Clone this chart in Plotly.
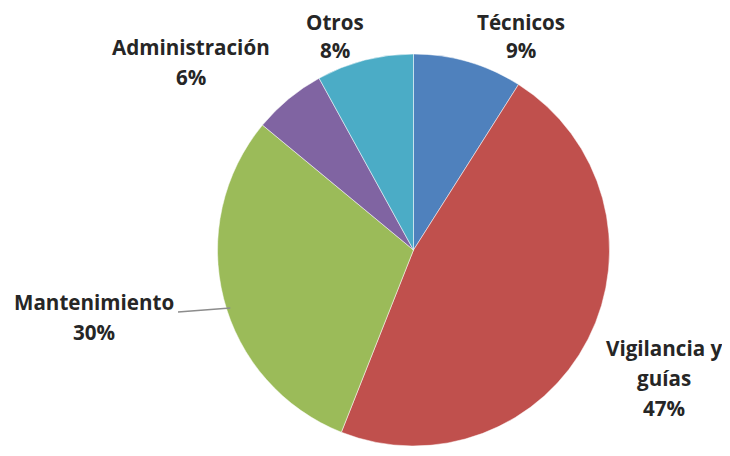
import math
import plotly.graph_objects as go

# data
categorias = ['Técnicos', 'Vigilancia y guías', 'Mantenimiento', 'Administración', 'Otros']
porcentajes = [9, 47, 30, 6, 8]
colores = ['#4F81BD', '#C0504D', '#9BBB59', '#8064A2', '#4BACC6']
lineas_etiqueta = [['Técnicos'], ['Vigilancia y', 'guías'], ['Mantenimiento'], ['Administración'], ['Otros']]

W, H = 730, 456
OFF = 8  # page body margin shifts the figure by 8px
# pie placement (pixels, in screenshot coordinates)
cx, cy, r = 413.5, 250, 196
FS = 20.6
SALTO = 30  # line spacing of labels (px)

# label anchor: centre x, centre y of first line (pixels)
pos_etiquetas = [(521, 17), (664, 348), (94, 302), (191, 47), (335, 17)]


def px(x):
    return (x - OFF) / W


def py(y):
    return 1 - (y - OFF) / H


fig = go.Figure(go.Pie(
    labels=categorias,
    values=porcentajes,
    sort=False,
    direction='clockwise',
    rotation=0,
    textinfo='none',
    hoverinfo='label+percent',
    marker=dict(colors=colores, line=dict(color='white', width=0.5)),
    domain=dict(x=[px(cx - r), px(cx + r)], y=[py(cy + r), py(cy - r)]),
))

annotations = []
y_min = OFF + FS * 0.66  # keep first line inside the figure
for lineas, val, (lx, ly) in zip(lineas_etiqueta, porcentajes, pos_etiquetas):
    textos = lineas + ['{}%'.format(val)]
    yc = max(ly, y_min)
    for i, t in enumerate(textos):
        if i > 0:
            yc = max(ly + i * SALTO, yc + FS * 1.38)
        annotations.append(dict(
            xref='paper', yref='paper', x=px(lx), y=py(yc),
            xanchor='center', yanchor='middle', showarrow=False,
            text=t, borderpad=0,
            font=dict(family='Open Sans', size=FS, color='#262626', weight=700),
        ))

# leader line for Mantenimiento: from label edge to the pie edge
lx, ly = pos_etiquetas[2]
y_fin = ly + 6
x_fin = cx - math.sqrt(r ** 2 - (y_fin - cy) ** 2) + 4
shapes = [dict(type='line', xref='paper', yref='paper',
               x0=px(lx + 84), y0=py(ly + 10), x1=px(x_fin), y1=py(y_fin),
               line=dict(color='#8c8c8c', width=1.5))]

fig.update_layout(
    width=W, height=H,
    margin=dict(l=0, r=0, t=0, b=0),
    showlegend=False,
    paper_bgcolor='white',
    plot_bgcolor='white',
    annotations=annotations,
    shapes=shapes,
)

fig.write_html("out.html")
